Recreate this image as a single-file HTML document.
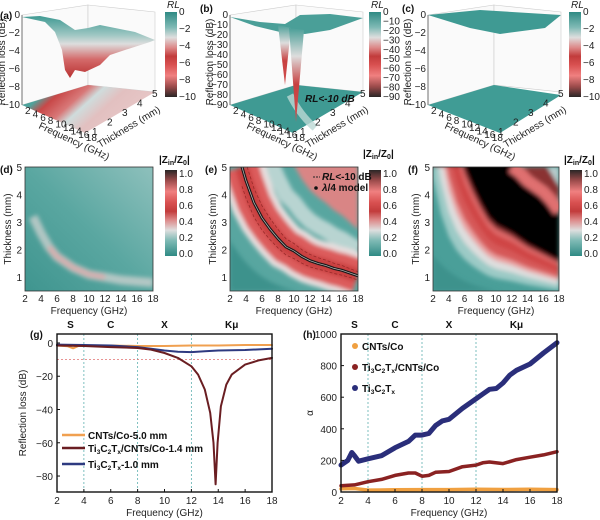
<!DOCTYPE html>
<html><head><meta charset="utf-8"><style>
body{margin:0;background:#fff}
svg{display:block;font-family:"Liberation Sans",sans-serif}
.t{font-size:10px;fill:#222}
.b{font-weight:bold;font-size:10px;fill:#111}
</style></head><body>
<svg id="s" width="600" height="520" viewBox="0 0 600 520">
<defs>
<linearGradient id="cbar" x1="0" y1="1" x2="0" y2="0">
<stop offset="0" stop-color="#2f8a84"/><stop offset="0.18" stop-color="#7fbab5"/><stop offset="0.3" stop-color="#dedede"/><stop offset="0.42" stop-color="#d88"/><stop offset="0.52" stop-color="#c23c3c"/><stop offset="0.62" stop-color="#d85050"/><stop offset="0.75" stop-color="#f08080"/><stop offset="0.88" stop-color="#9a4a4a"/><stop offset="1" stop-color="#2a2626"/>
</linearGradient>
<linearGradient id="rlbar" x1="0" y1="0" x2="0" y2="1">
<stop offset="0" stop-color="#2f8a84"/><stop offset="0.18" stop-color="#7fbab5"/><stop offset="0.3" stop-color="#dedede"/><stop offset="0.42" stop-color="#d88"/><stop offset="0.52" stop-color="#c23c3c"/><stop offset="0.62" stop-color="#d85050"/><stop offset="0.75" stop-color="#f08080"/><stop offset="0.88" stop-color="#9a4a4a"/><stop offset="1" stop-color="#2a2626"/>
</linearGradient>
<linearGradient id="surfA" x1="0" y1="0" x2="0" y2="1">
<stop offset="0" stop-color="#3f9a93"/><stop offset="0.3" stop-color="#9cc6c2"/><stop offset="0.45" stop-color="#ddd"/><stop offset="0.7" stop-color="#d46a6a"/><stop offset="1" stop-color="#b83030"/>
</linearGradient>
<linearGradient id="spike" x1="0" y1="0" x2="0" y2="1">
<stop offset="0" stop-color="#4a9f98"/><stop offset="0.3" stop-color="#ddd"/><stop offset="0.6" stop-color="#c84040"/><stop offset="1" stop-color="#d05050"/>
</linearGradient>
<linearGradient id="floorA" x1="0" y1="0" x2="1" y2="0.4">
<stop offset="0" stop-color="#3f9a93"/><stop offset="0.2" stop-color="#4fa39c"/><stop offset="0.3" stop-color="#c84848"/><stop offset="0.45" stop-color="#d87878"/><stop offset="0.55" stop-color="#cfdcdc"/><stop offset="0.7" stop-color="#e2c0c0"/><stop offset="1" stop-color="#e8c8c8"/>
</linearGradient>
<linearGradient id="dbg" x1="0" y1="1" x2="1" y2="0">
<stop offset="0" stop-color="#3f958f"/><stop offset="0.5" stop-color="#5aa7a1"/><stop offset="1" stop-color="#8ec0bc"/>
</linearGradient>
<filter id="blur" x="-10%" y="-10%" width="120%" height="120%"><feGaussianBlur stdDeviation="2.2"/></filter>
<clipPath id="clipd"><rect x="25" y="167" width="128" height="124"/></clipPath>
<clipPath id="clipe"><rect x="230" y="167" width="128" height="124"/></clipPath>
<clipPath id="clipf"><rect x="433" y="167" width="126" height="124"/></clipPath>
</defs>

<g id="panelA">
<polygon points="22,15 88,5 88,85 22,105" fill="#fafafa" stroke="#ccc" stroke-width="0.6"/>
<polygon points="88,5 155,12 155,92 88,85" fill="#fafafa" stroke="#ccc" stroke-width="0.6"/>
<polygon points="22,105 85,133 155,92 88,85" fill="url(#floorA)"/>
<polygon points="22,17 40,16 60,20 75,30 88,28 100,25 115,28 135,32 155,40 150,42 125,50 110,55 100,65 85,72 75,70 70,78 65,70 62,50 55,32 45,22" fill="url(#surfA)"/>
<line x1="22" y1="15" x2="22" y2="105" stroke="#555" stroke-width="0.8"/>
</g>
<g id="panelB">
<polygon points="230,15 296,5 296,85 230,105" fill="#fafafa" stroke="#ccc" stroke-width="0.6"/>
<polygon points="296,5 363,12 363,92 296,85" fill="#fafafa" stroke="#ccc" stroke-width="0.6"/>
<polygon points="230,105 293,133 363,92 296,85" fill="#3f9a93"/>
<path d="M290,95 Q300,115 315,128" stroke="#bcd8d5" stroke-width="7" fill="none" opacity="0.8"/>
<polygon points="230,17 260,22 285,24 300,15 330,14 363,18 330,30 305,34 280,32 255,26" fill="#4a9f98"/>
<polygon points="278,25 285,85 291,28" fill="url(#spike)"/>
<polygon points="289,28 296,122 304,30" fill="url(#spike)"/>
<line x1="230" y1="15" x2="230" y2="105" stroke="#555" stroke-width="0.8"/>
<text x="305" y="102" class="b" font-style="italic" font-size="9">RL&lt;-10 dB</text>
</g>
<g id="panelC">
<polygon points="428,15 494,5 494,85 428,105" fill="#fafafa" stroke="#ccc" stroke-width="0.6"/>
<polygon points="494,5 561,12 561,92 494,85" fill="#fafafa" stroke="#ccc" stroke-width="0.6"/>
<polygon points="428,105 500,133 561,95 494,85" fill="#409c95"/>
<polygon points="428,15 480,10 561,15 545,28 530,30 500,34 470,28" fill="#3f9a93"/>
<line x1="428" y1="15" x2="428" y2="105" stroke="#555" stroke-width="0.8"/>
</g>
<g id="topaxes"></g>

<g clip-path="url(#clipd)">
<rect x="25" y="167" width="128" height="124" fill="url(#dbg)"/>
<g filter="url(#blur)" id="dlayer"></g>
</g>
<g clip-path="url(#clipe)">
<rect x="230" y="167" width="128" height="124" fill="#58a6a0"/>
<g filter="url(#blur)" id="elayer"></g>
<g id="elines"></g>
</g>
<g clip-path="url(#clipf)">
<rect x="433" y="167" width="126" height="124" fill="#4a9f99"/>
<g filter="url(#blur)" id="flayer"></g>
</g>
<g id="midaxes"></g>

<g id="gchart"></g>
<g id="hchart"></g>
</svg>
<script>
const gFreqC=[2,2.8,3.2,3.6,4,6,8,10,12,14,16,18];
const gValC=[-1.5,-2,-3.2,-1.8,-1.5,-1.5,-1.8,-1.8,-1.5,-1.5,-1.2,-1.2];
const gFreqTC=[2,4,6,8,9,10,11,12,12.5,13,13.4,13.65,13.8,13.95,14.2,14.6,15,16,17,18];
const gValTC=[-1.5,-1.8,-2.5,-3,-4,-6,-9,-14,-19,-28,-42,-60,-85,-60,-38,-25,-19,-13,-10.5,-9];
const gFreqT=[2,4,6,8,9,10,11,12,13,14,16,18];
const gValT=[-1,-1.2,-1.5,-2.5,-3.5,-4.5,-5.3,-5.5,-5,-4.5,-4.2,-3.5];
const gYTicks=[0,-20,-40,-60,-80];
const freqTicks=[2,4,6,8,10,12,14,16,18];
const bandNames=["S","C","X","K\u03bc"];
const bandPos=[3,6,10,15];
const bandEdges=[4,8,12];
const hFreqT=[2,2.5,2.8,3,3.3,4,5,6,7,7.5,8,8.5,9,9.5,10,11,12,12.5,13,13.5,14,14.5,15,16,17,18];
const hValT=[170,200,250,230,195,210,230,280,320,360,360,370,420,450,460,530,590,620,650,655,690,740,770,810,880,945];
const hFreqTC=[2,3,4,5,6,7,7.5,8,8.5,9,10,11,12,12.5,13,14,15,16,17,18];
const hValTC=[40,45,65,80,105,120,120,100,105,125,130,160,170,185,190,180,205,220,235,255];
const hFreqC=[2,3,4,6,8,10,12,14,16,18];
const hValC=[20,22,12,14,15,15,17,16,17,15];
const hYTicks=[0,200,400,600,800,1000];
const eFreq=[3.5,4,5,6,7,8,9,10,11,12,13,14,15,16,17,18];
const eThick=[5,4.5,3.7,3.15,2.75,2.4,2.1,1.95,1.75,1.6,1.5,1.42,1.32,1.25,1.15,1.05];
const dFreq=[3,4,5,6,8,10,12,14,16,18];
const dThick=[3.2,2.6,2.1,1.75,1.35,1.1,1.0,0.9,0.85,0.8];
const fFreq=[2,3,4,5,6,7,8,9,10,12,14,16,18];
const fLower=[14,10,7.5,6,5,4.3,3.7,3.2,2.9,2.6,2.2,1.9,1.6];
const fUpperFreq=[12,13,14,16,17,18];
const fUpper=[5,4.8,4.5,4.1,3.8,3.4];
const thickTicks=[1,2,3,4,5];
const cbTicks=["1.0","0.8","0.6","0.4","0.2","0.0"];
const rlTicksA=[0,-2,-4,-6,-8,-10];
const rlTicksB=[0,-10,-20,-30,-40,-50,-60,-70,-80,-90];

const NS="http://www.w3.org/2000/svg";
function mk(tag,attrs,parent,txt){const e=document.createElementNS(NS,tag);for(const k in attrs)e.setAttribute(k,attrs[k]);if(txt!==undefined)e.textContent=txt;parent.appendChild(e);return e;}

const topG=document.getElementById('topaxes');
function topAxes(ox,ticks,cbx){
  const n=ticks.length;
  ticks.forEach((v,i)=>{const y=15+i*(90/(n-1));
    const t=mk('text',{x:ox-2,y:y+3,'text-anchor':'end',class:'t','font-size':'8.5'},topG,String(v).replace('-','\u2212'));
    
    
  });
  const yl=mk('text',{x:0,y:0,transform:`translate(${ox-17},62) rotate(-90)`,'text-anchor':'middle',class:'t','font-size':'8.5'},topG,'Reflection loss (dB)');
  
  
  freqTicks.forEach((f,i)=>{const x=ox+3+i*7.6,y=111+i*3.4;
    const t=mk('text',{x:x,y:y+3,class:'t','font-size':'8.5'},topG,f);
    
    });
  const fx=mk('text',{x:0,y:0,transform:`translate(${ox+16},128) rotate(25)`,class:'t','font-size':'8.5'},topG,'Frequency (GHz)');
  
  
  thickTicks.forEach((t,i)=>{const x=ox+70+i*15,y=135-i*9.5;
    const e=mk('text',{x:x,y:y,class:'t','font-size':'8.5'},topG,t);
    
    });
  const tx=mk('text',{x:0,y:0,transform:`translate(${ox+78},148) rotate(-31)`,class:'t','font-size':'8.5'},topG,'Thickness (mm)');
  
  
  const cb=mk('rect',{x:cbx,y:12,width:12,height:85,fill:'url(#rlbar)'},topG);
  
  
  const rl=mk('text',{x:cbx+2,y:8,class:'t','font-style':'italic','font-size':'10'},topG,'RL');
  
  
  ticks.forEach((v,i)=>{const y=12+i*(85/(n-1));
    const e=mk('text',{x:cbx+14,y:y+3,class:'t','font-size':'9'},topG,String(v).replace('-','\u2212'));
    
    });
}
topAxes(22,rlTicksA,165);
topAxes(230,rlTicksB,369);
topAxes(428,rlTicksA,569);
[['(a)',0,19],['(b)',200,12],['(c)',402,12]].forEach(p=>{const e=mk('text',{x:p[1],y:p[2],class:'b','font-size':'11'},topG,p[0]);
  
  });

function hx(box,f){return box.x0+(f-2)/16*(box.x1-box.x0);}
function hy(box,t){return box.y1-(t-0.5)/4.5*(box.y1-box.y0);}
const boxD={x0:25,x1:153,y0:167,y1:291},boxE={x0:230,x1:358,y0:167,y1:291},boxF={x0:433,x1:559,y0:167,y1:291};
function pathFrom(box,fs,ts,k){return fs.map((f,i)=>(i?'L':'M')+hx(box,f).toFixed(1)+','+hy(box,ts[i]*k).toFixed(1)).join(' ');}
const dl=document.getElementById('dlayer');
mk('path',{d:pathFrom(boxD,dFreq,dThick,1),stroke:'#c9cfcd','stroke-width':9,fill:'none',opacity:0.8},dl);
mk('path',{d:pathFrom(boxD,dFreq.slice(2,7),dThick.slice(2,7),1),stroke:'#dcaaaa','stroke-width':6,fill:'none',opacity:0.8},dl);
const el=document.getElementById('elayer');
mk('path',{d:pathFrom(boxE,eFreq,eThick,2.6)+` L358,167 Z`,fill:'#d98585'},el);
mk('path',{d:pathFrom(boxE,eFreq,eThick,1.9),stroke:'#b8d4d1','stroke-width':16,fill:'none'},el);
mk('path',{d:pathFrom(boxE,eFreq,eThick,1),stroke:'#e8dede','stroke-width':46,fill:'none'},el);
mk('path',{d:pathFrom(boxE,eFreq,eThick,1),stroke:'#dc5c5c','stroke-width':34,fill:'none'},el);
mk('path',{d:pathFrom(boxE,eFreq,eThick,1),stroke:'#c94040','stroke-width':14,fill:'none'},el);
mk('path',{d:`M230,291 L230,240 Q255,285 300,291 Z`,fill:'#3c928c'},el);
const elines=document.getElementById('elines');
[0.86,1.14].forEach(k=>{const p=mk('path',{d:pathFrom(boxE,eFreq,eThick,k),stroke:'#9a2a2a','stroke-width':0.8,'stroke-dasharray':'3,2',fill:'none'},elines);
  
  });
const ql=mk('path',{d:pathFrom(boxE,eFreq,eThick,1),stroke:'#1a1a1a','stroke-width':3,fill:'none'},elines);


mk('path',{d:pathFrom(boxE,eFreq,eThick,1),stroke:'#bbb','stroke-width':0.7,fill:'none'},elines);
const fl=document.getElementById('flayer');
[[0.33,'#9ccac6'],[0.45,'#dedede'],[0.55,'#e9a0a0'],[0.62,'#d65858'],[0.75,'#cf4545'],[0.88,'#e06a6a'],[0.95,'#8a3030']].forEach(a=>{
  mk('path',{d:pathFrom(boxF,fFreq,fLower,a[0])+' L559,167 L433,167 Z',fill:a[1]},fl);});
let blk=pathFrom(boxF,fFreq,fLower,1)+' L559,'+hy(boxF,3.4).toFixed(1);
for(let i=fUpperFreq.length-1;i>=0;i--){blk+=' L'+hx(boxF,fUpperFreq[i]).toFixed(1)+','+hy(boxF,fUpper[i]).toFixed(1);}
blk+=' L'+hx(boxF,12).toFixed(1)+',160 L'+hx(boxF,5.9).toFixed(1)+',160 Z';
mk('path',{d:blk,fill:'#050505'},fl);
mk('path',{d:pathFrom(boxF,fUpperFreq,fUpper,1),stroke:'#e07070','stroke-width':12,fill:'none'},fl);
mk('path',{d:`M${hx(boxF,16.5)},167 L559,167 L559,${hy(boxF,4.3)} Z`,fill:'#b8cccc'},fl);
mk('path',{d:`M433,291 L433,255 Q455,285 500,291 Z`,fill:'#3c928c'},fl);

const midG=document.getElementById('midaxes');
function hmAxes(box,lbl,cbx,titleY){
  mk('rect',{x:box.x0,y:box.y0,width:box.x1-box.x0,height:box.y1-box.y0,fill:'none',stroke:'#333','stroke-width':0.8},midG);
  freqTicks.forEach(f=>{const e=mk('text',{x:hx(box,f),y:box.y1+11,'text-anchor':'middle',class:'t'},midG,f);
    
    });
  thickTicks.forEach(t=>{const e=mk('text',{x:box.x0-3,y:hy(box,t)+4,'text-anchor':'end',class:'t'},midG,t);
    
    });
  const xt=mk('text',{x:(box.x0+box.x1)/2,y:box.y1+23,'text-anchor':'middle',class:'t'},midG,'Frequency (GHz)');
  
  
  const yt=mk('text',{x:0,y:0,transform:`translate(${box.x0-14},${(box.y0+box.y1)/2}) rotate(-90)`,'text-anchor':'middle',class:'t'},midG,'Thickness (mm)');
  
  
  const pl=mk('text',{x:box.x0-25,y:box.y0+6,class:'b'},midG,lbl);
  
  
  const cb=mk('rect',{x:cbx,y:170,width:12,height:86,fill:'url(#cbar)'},midG);
  
  
  cbTicks.forEach((v,i)=>{const e=mk('text',{x:cbx+14,y:174+i*16+3,class:'t'},midG,v);
    
    });
  const tt=mk('text',{x:cbx-6,y:titleY,class:'b'},midG);
  
  
  tt.innerHTML='|Z<tspan font-size="7" dy="2">in</tspan><tspan dy="-2">/Z</tspan><tspan font-size="7" dy="2">0</tspan><tspan dy="-2">|</tspan>';
}
hmAxes(boxD,'(d)',165,163);
hmAxes(boxE,'(e)',369,157);
hmAxes(boxF,'(f)',570,163);
const lg=mk('g',{},midG);


mk('line',{x1:313,y1:177,x2:320,y2:177,stroke:'#222','stroke-dasharray':'2,1'},lg);
mk('text',{x:322,y:180,class:'b','font-size':'7.5'},lg).innerHTML='<tspan font-style="italic">RL</tspan>&lt;-10 dB';
mk('circle',{cx:316,cy:188,r:1.8,fill:'#111'},lg);
mk('text',{x:322,y:191,class:'b','font-size':'7.5'},lg).innerHTML='<tspan font-style="italic">λ</tspan>/4 model';

function lineChart(g,box,ymin,ymax,yticks,series,opts){
  const X=f=>box.x0+(f-2)/16*(box.x1-box.x0);
  const Y=v=>box.y1-(v-ymin)/(ymax-ymin)*(box.y1-box.y0);
  bandEdges.forEach(f=>{const l=mk('line',{x1:X(f),y1:box.y0,x2:X(f),y2:box.y1,stroke:'#5fb0b0','stroke-width':0.8,'stroke-dasharray':'2,2'},g);
    
    });
  bandNames.forEach((n,i)=>{const t=mk('text',{x:X(bandPos[i]),y:box.y0-6,'text-anchor':'middle',class:'b'},g,n);
    
    });
  if(opts.ref!==undefined){const r=mk('line',{x1:box.x0,y1:Y(opts.ref),x2:box.x1,y2:Y(opts.ref),stroke:'#e07070','stroke-width':0.8,'stroke-dasharray':'2,2'},g);
    
    }
  series.forEach(s=>{const p=mk('polyline',{points:s.f.map((f,i)=>X(f).toFixed(1)+','+Y(s.v[i]).toFixed(1)).join(' '),fill:'none',stroke:s.c,'stroke-width':s.w,'stroke-linejoin':'round','stroke-linecap':'round'},g);
    
    });
  mk('rect',{x:box.x0,y:box.y0,width:box.x1-box.x0,height:box.y1-box.y0,fill:'none',stroke:'#111','stroke-width':1.4},g);
  freqTicks.forEach(f=>{mk('line',{x1:X(f),y1:box.y1,x2:X(f),y2:box.y1-3,stroke:'#111'},g);
    const t=mk('text',{x:X(f),y:box.y1+12,'text-anchor':'middle',class:'t'},g,f);
    
    });
  yticks.forEach(v=>{mk('line',{x1:box.x0,y1:Y(v),x2:box.x0+3,y2:Y(v),stroke:'#111'},g);
    const t=mk('text',{x:box.x0-4,y:Y(v)+4,'text-anchor':'end',class:'t'},g,String(v).replace('-','\u2212'));
    
    });
  const xt=mk('text',{x:(box.x0+box.x1)/2,y:box.y1+24,'text-anchor':'middle',class:'t'},g,'Frequency (GHz)');
  
  
  const yt=mk('text',{x:0,y:0,transform:`translate(${opts.ytx},${(box.y0+box.y1)/2}) rotate(-90)`,'text-anchor':'middle',class:'t'},g,opts.ytitle);
  
  
  const pl=mk('text',{x:opts.plx,y:box.y0+4,class:'b'},g,opts.pl);
  
  
}
const TI='Ti<tspan font-size="6.5" dy="2">3</tspan><tspan dy="-2">C</tspan><tspan font-size="6.5" dy="2">2</tspan><tspan dy="-2">T</tspan><tspan font-size="6.5" dy="2">x</tspan><tspan dy="-2">';
const gg=document.getElementById('gchart');
lineChart(gg,{x0:57,x1:272,y0:334,y1:492},-89.6,5.4,gYTicks,[
 {f:gFreqC,v:gValC,c:'#f0a050',w:2,name:'series-cnts-co'},
 {f:gFreqT,v:gValT,c:'#2e3a80',w:2,name:'series-ti3c2tx'},
 {f:gFreqTC,v:gValTC,c:'#6a1e22',w:2,name:'series-ti3c2tx-cnts-co'}],
 {ref:-10,ytitle:'Reflection loss (dB)',ytx:26,pl:'(g)',plx:30});
const gl=mk('g',{},gg);


[['#f0a050','CNTs/Co-5.0 mm',435],['#6a1e22',TI+'/CNTs/Co-1.4 mm</tspan>',448],['#2e3a80',TI+'-1.0 mm</tspan>',464]].forEach(a=>{
 mk('line',{x1:62,y1:a[2],x2:85,y2:a[2],stroke:a[0],'stroke-width':2.5},gl);
 const t=mk('text',{x:88,y:a[2]+4,class:'b'},gl);t.innerHTML=a[1];
 
 });
const hg=document.getElementById('hchart');
lineChart(hg,{x0:341,x1:557,y0:334,y1:492},0,1000,hYTicks,[
 {f:hFreqC,v:hValC,c:'#f0a040',w:3.5,name:'series-cnts-co'},
 {f:hFreqTC,v:hValTC,c:'#8a2222',w:3.5,name:'series-ti3c2tx-cnts-co'},
 {f:hFreqT,v:hValT,c:'#2a2e7a',w:5,name:'series-ti3c2tx'}],
 {ytitle:'\u03b1',ytx:313,pl:'(h)',plx:303});
const hl=mk('g',{},hg);


[['#f0a040','CNTs/Co',346],['#8a2222',TI+'/CNTs/Co</tspan>',367],['#2a2e7a',TI+'</tspan>',388]].forEach(a=>{
 mk('circle',{cx:355,cy:a[2],r:3,fill:a[0]},hl);
 const t=mk('text',{x:362,y:a[2]+4,class:'b'},hl);t.innerHTML=a[1];
 
 });
</script>
</body></html>
